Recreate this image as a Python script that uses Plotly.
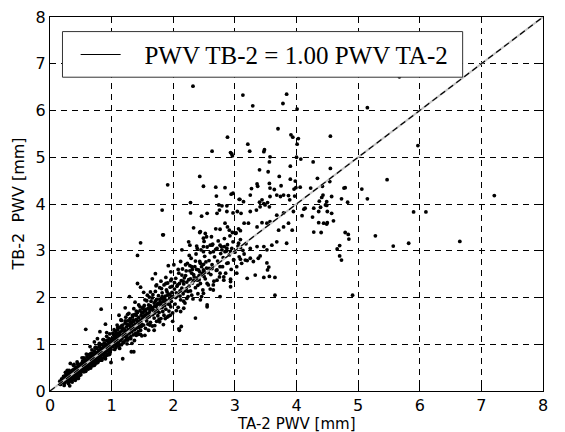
import plotly.graph_objects as go

# ---- data: (TA-2 PWV, TB-2 PWV) pairs in mm ----
band_low = [
    (0.16,0.21),(0.17,0.14),(0.19,0.26),(0.21,0.19),(0.22,0.31),(0.23,0.24),(0.24,0.17),(0.25,0.29),(0.26,0.35),(0.27,0.22),
    (0.28,0.27),(0.28,0.33),(0.29,0.19),(0.30,0.38),(0.31,0.25),(0.32,0.30),(0.33,0.41),(0.33,0.27),(0.34,0.22),(0.35,0.34),
    (0.36,0.44),(0.36,0.29),(0.37,0.38),(0.38,0.25),(0.38,0.33),(0.39,0.47),(0.40,0.36),(0.41,0.29),(0.41,0.42),(0.42,0.51),
    (0.43,0.38),(0.44,0.33),(0.44,0.45),(0.45,0.40),(0.46,0.54),(0.46,0.31),(0.47,0.44),(0.48,0.39),(0.48,0.57),(0.49,0.48),
    (0.50,0.35),(0.50,0.43),(0.18,0.17),(0.20,0.24),(0.22,0.20),(0.24,0.32),(0.26,0.23),(0.27,0.30),(0.29,0.26),(0.30,0.31),
    (0.31,0.36),(0.32,0.23),(0.34,0.29),(0.35,0.40),(0.35,0.26),(0.37,0.31),(0.37,0.44),(0.39,0.34),(0.40,0.41),(0.40,0.27),
    (0.42,0.35),(0.42,0.44),(0.43,0.48),(0.45,0.36),(0.45,0.50),(0.47,0.40),(0.47,0.55),(0.49,0.37),(0.49,0.52),(0.23,0.12),
    (0.32,0.11),(0.33,0.59),(0.28,0.44),(0.39,0.57),(0.44,0.62),(0.41,0.23),(0.46,0.27),(0.36,0.19),(0.30,0.16),(0.25,0.40),
]

band_mid = [
    (0.51,0.58),(0.51,0.45),(0.52,0.51),(0.53,0.64),(0.53,0.42),(0.54,0.55),(0.55,0.49),(0.55,0.61),(0.56,0.68),(0.57,0.53),
    (0.57,0.44),(0.58,0.59),(0.59,0.66),(0.59,0.51),(0.60,0.73),(0.61,0.57),(0.61,0.48),(0.62,0.63),(0.63,0.70),(0.63,0.54),
    (0.64,0.77),(0.65,0.60),(0.65,0.51),(0.66,0.67),(0.67,0.74),(0.67,0.58),(0.68,0.81),(0.69,0.64),(0.69,0.55),(0.70,0.71),
    (0.71,0.78),(0.71,0.61),(0.72,0.85),(0.73,0.68),(0.73,0.58),(0.74,0.75),(0.75,0.82),(0.75,0.65),(0.76,0.91),(0.77,0.72),
    (0.77,0.62),(0.78,0.79),(0.79,0.87),(0.79,0.69),(0.80,0.95),(0.81,0.76),(0.81,0.66),(0.82,0.83),(0.83,0.91),(0.83,0.72),
    (0.84,0.99),(0.85,0.80),(0.85,0.70),(0.86,0.88),(0.87,0.96),(0.87,0.77),(0.88,1.03),(0.89,0.84),(0.89,0.73),(0.90,0.92),
    (0.91,1.00),(0.91,0.81),(0.92,1.08),(0.93,0.88),(0.93,0.77),(0.94,0.96),(0.95,1.05),(0.95,0.85),(0.96,1.12),(0.97,0.93),
    (0.97,0.82),(0.98,1.01),(0.99,1.09),(0.99,0.89),(1.00,0.98),(0.52,0.60),(0.54,0.47),(0.56,0.57),(0.58,0.50),(0.60,0.62),
    (0.62,0.69),(0.64,0.59),(0.66,0.72),(0.68,0.63),(0.70,0.77),(0.72,0.66),(0.74,0.70),(0.76,0.80),(0.78,0.73),(0.80,0.84),
    (0.82,0.77),(0.84,0.90),(0.86,0.81),(0.88,0.94),(0.90,0.86),(0.92,0.97),(0.94,0.90),(0.96,1.02),(0.98,0.95),(0.55,0.71),
    (0.62,0.78),(0.68,0.88),(0.74,0.94),(0.80,1.02),(0.86,1.10),(0.92,1.17),(0.97,1.22),(0.58,0.42),(0.66,0.49),(0.72,0.55),
    (0.78,0.62),(0.84,0.66),(0.90,0.74),(0.96,0.78),
    (0.58,1.32),(0.90,1.43),(0.83,1.75),(0.81,1.27),(0.99,0.61),(0.72,1.05),(0.65,0.95),(0.92,1.25),(0.77,1.12),
]

band_high = [
    (1.01,1.13),(1.02,0.95),(1.02,1.04),(1.03,1.21),(1.04,1.09),(1.05,0.99),(1.05,1.17),(1.06,1.28),(1.07,1.06),(1.08,0.97),
    (1.08,1.19),(1.09,1.12),(1.10,1.31),(1.11,1.03),(1.11,1.22),(1.12,1.15),(1.13,1.36),(1.14,1.08),(1.14,1.26),(1.15,1.18),
    (1.16,0.99),(1.17,1.30),(1.17,1.12),(1.18,1.41),(1.19,1.22),(1.20,1.05),(1.20,1.33),(1.21,1.17),(1.22,1.45),(1.23,1.27),
    (1.23,1.09),(1.24,1.37),(1.25,1.20),(1.26,1.50),(1.27,1.31),(1.27,1.13),(1.28,1.41),(1.29,1.24),(1.30,1.55),(1.31,1.35),
    (1.31,1.16),(1.32,1.45),(1.33,1.27),(1.34,1.59),(1.35,1.39),(1.35,1.20),(1.36,1.49),(1.37,1.31),(1.38,1.64),(1.39,1.43),
    (1.39,1.23),(1.40,1.53),(1.41,1.35),(1.42,1.68),(1.43,1.47),(1.43,1.27),(1.44,1.57),(1.45,1.39),(1.46,1.72),(1.47,1.51),
    (1.47,1.30),(1.48,1.62),(1.49,1.43),(1.50,1.77),(1.50,1.55),(1.03,1.06),(1.06,1.12),(1.09,1.02),(1.12,1.24),(1.15,1.10),
    (1.18,1.18),(1.21,1.30),(1.24,1.14),(1.27,1.25),(1.30,1.39),(1.33,1.33),(1.36,1.41),(1.39,1.34),(1.42,1.50),(1.45,1.46),
    (1.48,1.38),(1.04,1.31),(1.10,1.36),(1.16,1.51),(1.22,1.50),(1.28,1.66),(1.34,1.62),(1.40,1.71),(1.46,1.80),(1.07,0.93),
    (1.13,0.91),(1.19,1.03),(1.25,1.01),(1.31,1.12),(1.37,1.08),(1.43,1.21),(1.49,1.18),(1.15,1.52),(1.26,1.64),(1.38,1.90),
    (1.36,0.84),(1.18,0.69),(1.32,0.84),(1.22,1.78),(1.36,1.76),(1.42,2.30),(1.47,2.22),(1.52,2.11),(1.42,2.90),(1.47,3.17),
    (1.29,2.02),(1.12,1.62),
]

band_upper = [
    (1.51,1.68),(1.52,1.41),(1.53,1.83),(1.53,1.55),(1.54,1.62),(1.55,1.34),(1.56,1.75),(1.57,1.93),(1.57,1.50),(1.58,1.66),
    (1.59,1.43),(1.60,1.84),(1.61,1.59),(1.61,2.01),(1.62,1.71),(1.63,1.47),(1.64,1.92),(1.65,1.63),(1.65,1.79),(1.66,1.39),
    (1.67,2.06),(1.68,1.72),(1.69,1.56),(1.69,1.88),(1.70,1.67),(1.71,2.13),(1.72,1.81),(1.73,1.49),(1.73,1.96),(1.74,1.74),
    (1.75,1.61),(1.76,2.04),(1.77,1.86),(1.77,1.68),(1.78,2.21),(1.79,1.78),(1.80,1.55),(1.81,1.97),(1.81,1.84),(1.82,2.10),
    (1.83,1.70),(1.84,1.91),(1.85,2.27),(1.85,1.62),(1.86,1.83),(1.87,2.03),(1.88,1.75),(1.89,2.16),(1.89,1.93),(1.90,1.58),
    (1.91,2.31),(1.92,1.86),(1.93,2.07),(1.93,1.71),(1.94,1.98),(1.95,2.22),(1.96,1.80),(1.97,2.39),(1.97,1.92),(1.98,2.11),
    (1.99,1.67),(2.00,2.02),(1.52,1.60),(1.55,1.71),(1.58,1.57),(1.61,1.66),(1.64,1.75),(1.67,1.64),(1.70,1.82),(1.73,1.71),
    (1.76,1.88),(1.79,1.90),(1.82,1.79),(1.85,1.97),(1.88,1.89),(1.91,2.05),(1.94,1.85),(1.97,2.03),(1.54,1.95),(1.63,2.12),
    (1.72,2.25),(1.80,2.35),(1.88,2.43),(1.96,2.55),(1.60,1.30),(1.70,1.40),(1.78,1.48),(1.87,1.55),(1.95,1.62),
    (1.71,2.51),(1.83,3.34),(1.84,3.34),(1.82,3.87),(1.91,4.41),(2.01,2.70),(1.66,2.40),(1.92,2.68),
]

band_top = [
    (2.02,2.18),(2.03,1.86),(2.04,2.41),(2.06,2.03),(2.07,2.27),(2.08,1.79),(2.09,2.52),(2.11,2.14),(2.12,1.95),(2.13,2.36),
    (2.15,2.61),(2.16,2.08),(2.17,2.29),(2.19,1.88),(2.20,2.47),(2.21,2.19),(2.23,2.73),(2.24,2.02),(2.25,2.38),(2.27,2.57),
    (2.28,2.14),(2.29,2.84),(2.31,2.31),(2.32,1.97),(2.33,2.49),(2.35,2.66),(2.36,2.21),(2.37,2.93),(2.39,2.42),(2.40,2.08),
    (2.41,2.59),(2.43,2.77),(2.44,2.30),(2.45,3.02),(2.47,2.51),(2.48,2.16),(2.49,2.71),(2.51,2.88),(2.52,2.40),(2.54,2.63),
    (2.55,3.08),(2.57,2.27),(2.58,2.79),(2.60,2.96),(2.61,2.49),(2.63,2.70),(2.64,3.14),(2.66,2.35),(2.67,2.87),(2.69,3.03),
    (2.70,2.58),(2.72,2.78),(2.73,3.21),(2.75,2.44),(2.77,2.94),(2.78,3.09),(2.80,2.66),(2.81,2.85),(2.83,3.26),(2.85,2.52),
    (2.86,2.99),(2.88,3.13),(2.89,2.74),(2.91,2.91),(2.92,3.32),(2.94,2.60),(2.95,3.05),(2.97,3.19),(2.98,2.81),(3.00,2.97),
    (3.02,3.38),(3.03,2.66),(3.05,3.10),(3.07,2.87),(3.09,3.24),(3.11,2.73),(3.13,3.01),(3.15,2.93),(3.18,3.15),(3.20,2.79),
    (2.05,2.10),(2.10,2.30),(2.14,2.20),(2.18,2.42),(2.22,2.33),(2.26,2.25),(2.30,2.52),(2.34,2.44),(2.38,2.60),(2.42,2.38),
    (2.46,2.66),(2.50,2.56),(2.26,2.90),(2.38,3.10),(2.50,3.20),(2.62,3.30),
    (2.10,1.30),(2.13,1.38),(2.09,1.33),(2.36,1.56),(2.55,1.80),(2.49,2.09),(2.65,2.27),(2.82,2.37),(2.93,2.34),
    (2.55,1.84),(2.44,1.95),(2.22,1.98),(2.17,1.77),(2.12,1.70),
]

band_fill = [
    (0.31,0.44),(0.34,0.21),(0.38,0.55),(0.41,0.26),(0.45,0.58),(0.48,0.33),(0.52,0.71),(0.55,0.41),(0.59,0.79),(0.62,0.47),
    (0.66,0.80),(0.69,0.54),(0.73,0.92),(0.76,0.60),(0.80,0.96),(0.83,0.66),(0.87,1.10),(0.90,0.69),(0.94,1.09),(0.97,0.79),
    (0.53,0.57),(0.57,0.66),(0.61,0.60),(0.65,0.69),(0.69,0.74),(0.73,0.73),(0.77,0.82),(0.81,0.88),(0.85,0.86),(0.89,0.97),
    (0.93,0.94),(0.97,1.04),
    (1.02,1.24),(1.05,0.89),(1.09,1.41),(1.12,0.97),(1.16,1.39),(1.19,1.04),(1.23,1.58),(1.26,1.09),(1.30,1.52),(1.33,1.02),
    (1.37,1.63),(1.40,1.19),(1.44,1.84),(1.47,1.21),(1.51,1.79),(1.54,1.19),(1.58,2.05),(1.62,1.41),(1.66,1.99),(1.69,1.30),
    (1.73,2.27),(1.77,1.53),(1.81,2.19),(1.84,1.42),(1.88,2.30),(1.92,1.60),(1.96,2.36),(1.99,1.49),
    (1.04,1.14),(1.08,1.24),(1.13,1.20),(1.17,1.35),(1.22,1.29),(1.26,1.42),(1.31,1.47),(1.35,1.52),(1.40,1.62),(1.44,1.36),
    (1.49,1.68),(1.53,1.73),(1.56,1.63),(1.60,1.77),(1.63,1.82),(1.67,1.78),(1.71,1.92),(1.74,1.85),(1.78,1.96),(1.82,2.02),
    (1.86,1.98),(1.90,2.12),(1.94,2.06),(1.98,2.24),
    (2.02,2.32),(2.05,1.72),(2.08,2.60),(2.11,2.03),(2.14,2.48),(2.17,1.92),(2.21,2.57),(2.24,2.13),(2.27,2.68),(2.30,2.05),
    (2.33,2.36),(2.36,2.78),(2.40,2.26),(2.43,2.55),(2.46,2.02),(2.50,2.45),(2.53,2.76),(2.57,2.53),(2.60,2.18),(2.04,2.00),
    (2.16,2.35),(2.28,2.40),(2.06,2.24),(2.19,2.14),(2.31,2.60),(2.42,2.47),(2.58,2.62),
]

scatter_mid = [
    (2.44,3.41),(2.54,3.30),(2.49,3.27),(2.63,3.12),(2.12,2.77),(2.20,2.70),(2.30,2.66),(2.44,2.73),(2.49,2.59),(2.63,2.62),
    (2.76,2.66),(2.87,2.73),(2.98,2.80),(2.39,2.37),(2.55,2.30),(2.71,2.37),(2.82,2.44),(2.93,2.23),(2.65,2.16),(2.76,2.02),
    (2.14,3.02),(2.39,3.05),(2.49,2.98),(2.65,2.98),(2.71,3.05),(2.79,3.02),(2.84,2.98),(2.93,2.98),(3.09,2.82),(3.17,2.80),
    (3.25,2.84),(3.30,2.77),(3.38,2.84),(3.41,2.89),(3.52,2.74),(3.55,2.65),(3.53,2.59),(3.47,2.43),(3.56,2.45),(3.65,2.43),
    (3.20,2.41),(3.33,2.48),(3.65,2.05),(2.71,2.59),(2.76,2.52),(2.93,2.39),(3.03,2.52),
    (2.25,3.19),(2.27,3.12),(2.49,3.09),(2.60,3.12),(2.76,3.12),(2.83,3.09),(2.87,3.05),(3.06,3.16),(3.09,3.07),(3.25,3.05),
    (3.36,3.09),(3.47,3.09),(3.52,3.02),(3.60,3.12),(3.68,3.19),(3.84,3.16),
    (2.33,3.49),(2.43,3.39),(2.52,3.37),(2.69,3.47),(2.76,3.46),(2.84,3.59),(2.88,3.51),(2.91,3.44),(2.96,3.39),(3.01,3.37),
    (3.06,3.47),(3.09,3.43),(3.15,3.59),(3.22,3.59),(3.36,3.51),(3.44,3.60),(3.52,3.59),(3.57,3.62),(3.71,3.44),(3.79,3.51),
    (3.87,3.59),(3.93,3.44),(4.44,3.59),
    (2.28,3.81),(2.46,3.74),(2.55,3.80),(2.71,3.80),(2.75,3.87),(2.87,3.84),(2.97,3.81),(3.04,3.84),(3.10,3.80),(3.25,3.84),
    (3.35,3.87),(3.41,3.94),(3.47,4.01),(3.56,3.94),(3.68,3.76),(3.79,3.81),(3.95,3.84),(4.14,3.91),(4.28,3.91),(4.36,3.84),
    (4.47,3.98),
    (2.70,4.17),(2.94,4.21),(3.07,4.10),(3.25,4.19),(3.40,4.04),(3.49,3.98),(3.53,4.03),(3.64,4.31),(3.68,4.19),(3.79,4.19),
    (3.87,4.18),(3.97,4.17),(3.96,4.32),(4.41,4.14),(4.57,4.16),(2.28,4.03),(2.74,3.98),(2.79,3.96),(2.87,3.96),
    (2.97,4.23),(3.08,4.10),(3.14,4.05),(3.44,4.09),(3.57,4.16),(3.74,4.16),(3.89,4.09),(4.42,4.38),
]

scatter_high = [
    (2.32,6.52),(3.13,6.33),(3.84,6.35),(3.78,6.15),(3.29,6.10),(4.01,6.03),(3.70,5.61),(2.88,5.43),(3.91,5.48),(3.94,5.43),
    (4.03,5.40),(4.01,5.28),(4.55,5.45),(3.21,5.28),(3.24,5.13),(2.63,5.13),(2.93,5.10),(2.95,5.07),(2.96,5.03),(3.48,5.16),
    (3.47,5.12),(3.57,5.01),(4.00,5.00),(4.07,4.96),(4.27,4.90),(3.56,4.90),(3.90,4.81),(4.55,4.76),(3.40,4.73),(3.54,4.69),
    (2.43,4.59),(3.72,4.59),(3.90,4.53),(3.98,4.49),(4.34,4.55),(2.49,4.38),(2.69,4.36),(2.84,4.35),(3.36,4.43),(3.37,4.38),
    (3.27,4.33),(3.56,4.44),(3.57,4.34),(3.75,4.39),(3.99,4.35),(4.06,4.36),(4.23,4.34),(4.79,4.35),
    (5.67,6.72),(5.15,6.06),(5.97,5.25),(5.47,4.52),(4.77,4.34),(5.06,4.32),(4.54,4.48),
]

scatter_right = [
    (7.21,4.18),(4.73,4.11),(4.83,4.04),(5.15,4.11),(4.57,3.80),(4.60,3.64),(5.90,3.83),(6.10,3.83),(4.79,3.39),(4.84,3.35),
    (4.85,3.25),(5.28,3.32),(6.65,3.20),(5.82,3.16),(4.70,3.11),(4.66,3.04),(5.57,3.10),(4.70,2.89),(4.73,2.80),(4.91,2.05),
    (4.43,4.19),(4.12,3.89),(4.09,3.75),(4.26,3.72),(4.37,4.06),(4.49,4.05),(4.49,3.97),(4.39,3.93),(4.50,3.84),(4.36,3.60),
    (4.49,3.57),(4.50,3.60),(4.28,3.40),(4.40,3.39),
]

fit_slope = 1.00
axis_range = [0, 8]
tick_values = [0, 1, 2, 3, 4, 5, 6, 7, 8]
legend_label = "\u00a0\u00a0\u00a0PWV TB-2 = 1.00 PWV TA-2"
x_title = "TA-2 PWV [mm]"
y_title = "TB-2  PWV [mm]"

groups = [band_low, band_mid, band_high, band_upper, band_top, band_fill,
          scatter_mid, scatter_high, scatter_right]
ta2 = [p[0] for g in groups for p in g]
tb2 = [p[1] for g in groups for p in g]

line_x = axis_range
line_y = [fit_slope * v for v in line_x]

fig = go.Figure()
fig.add_trace(go.Scatter(
    x=ta2, y=tb2, mode="markers", showlegend=False,
    marker=dict(color="black", size=3.8, line=dict(width=0)),
    hoverinfo="skip",
))
fig.add_trace(go.Scatter(
    x=line_x, y=line_y, mode="lines", showlegend=False,
    line=dict(color="#c4c4c4", width=2),
))
fig.add_trace(go.Scatter(
    x=line_x, y=line_y, mode="lines", showlegend=False,
    line=dict(color="black", width=1.2, dash="6px,4px"),
))
fig.add_trace(go.Scatter(
    x=[None], y=[None], mode="lines", name=legend_label, showlegend=True,
    line=dict(color="black", width=1.2),
))

axis_common = dict(
    range=axis_range, tickvals=tick_values, ticktext=[str(v) for v in tick_values],
    showgrid=True, gridcolor="black", gridwidth=1, griddash="6px,5px",
    zeroline=False, showline=True, linecolor="black", linewidth=1.2, mirror="ticks",
    ticks="inside", ticklen=5, tickcolor="black", automargin=False,
    tickfont=dict(family="DejaVu Sans", size=16, color="black"),
)

title_font = dict(family="DejaVu Sans", size=16, color="black")

fig.update_layout(
    width=565, height=432,
    margin=dict(l=50, r=22, t=17, b=41, autoexpand=False),
    paper_bgcolor="white", plot_bgcolor="white",
    xaxis=dict(axis_common),
    yaxis=dict(axis_common),
    shapes=[dict(
        type="rect", xref="paper", yref="paper", layer="above",
        x0=0.0253, x1=0.837, y0=0.839, y1=0.961,
        line=dict(color="#333333", width=1), fillcolor="white",
    )],
    annotations=[
        dict(text=x_title, xref="paper", yref="paper", x=0.5, y=-0.087,
             xanchor="center", yanchor="middle", showarrow=False, borderpad=0,
             font=dict(family="DejaVu Sans", size=15, color="black")),
        dict(text=y_title, xref="paper", yref="paper", x=-0.064, y=0.5,
             xanchor="center", yanchor="middle", showarrow=False, textangle=-90, font=title_font),
    ],
    legend=dict(
        x=0.052, y=0.899, xanchor="left", yanchor="middle",
        bgcolor="rgba(0,0,0,0)", borderwidth=0,
        font=dict(family="Liberation Serif", size=25, color="black"),
        itemwidth=40,
    ),
    showlegend=True,
)

fig.write_html("out.html", config={"displayModeBar": False},
               post_script="document.body.style.margin='0';")
